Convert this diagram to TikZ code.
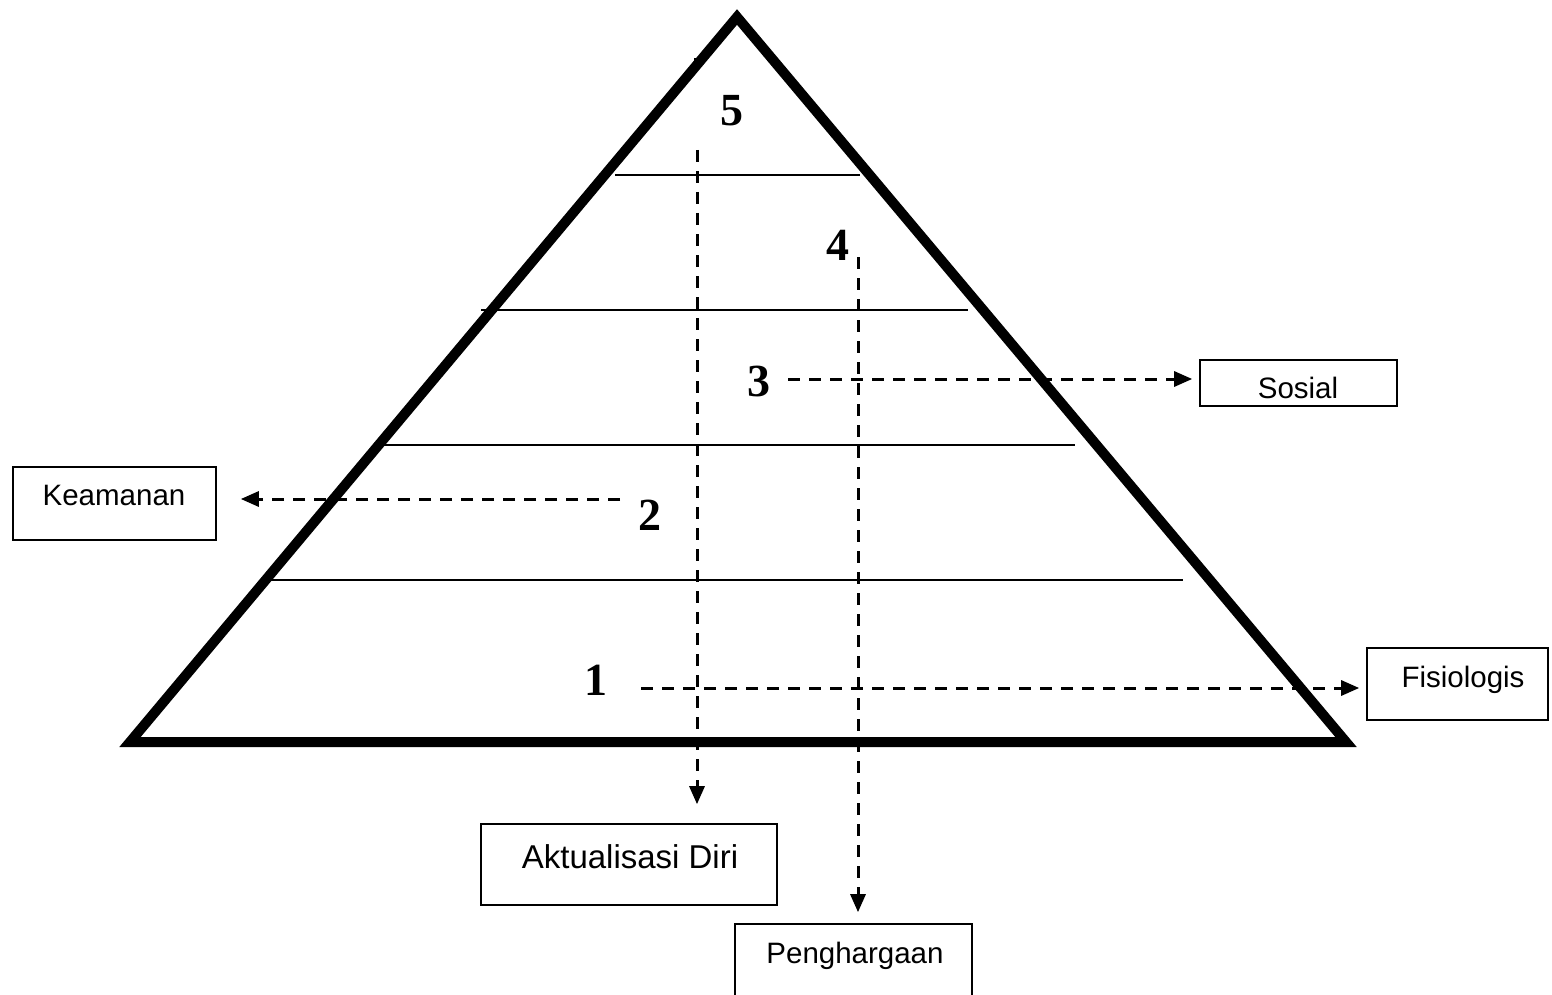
\documentclass[tikz,border=0pt]{standalone}
\usepackage{fontspec}
\setmainfont{Liberation Serif}
\setsansfont{Liberation Sans}
\usetikzlibrary{arrows.meta}
\tikzset{
  tri/.style={line width=10pt, line join=miter, miter limit=10},
  level/.style={line width=1.8pt},
  box/.style={draw, line width=1.6pt, inner sep=0pt, rectangle},
  darr/.style={line width=3pt, dash pattern=on 12pt off 9pt, -{Triangle[length=18pt,width=15pt]}},
  num/.style={inner sep=0pt, anchor=base, font=\fontsize{46}{50}\selectfont\bfseries},
  lblS/.style={inner sep=0pt, anchor=base, font=\sffamily\fontsize{29.5}{34}\selectfont},
  lblL/.style={inner sep=0pt, anchor=base, font=\sffamily\fontsize{33}{38}\selectfont},
}
\begin{document}
\begin{tikzpicture}[x=1pt,y=-1pt]
\clip (0,0) rectangle (1552,995);
\fill[white] (0,0) rectangle (1552,995);
% pyramid
\coordinate (apex) at (737,17);
\coordinate (bl) at (130,742);
\coordinate (br) at (1346,742);
\draw[tri] (apex) -- (bl) -- (br) -- cycle;
% level lines
\draw[level] (615,175) -- (860,175);
\draw[level] (481,310) -- (968,310);
\draw[level] (382,445) -- (1075,445);
\draw[level] (270,580) -- (1183,580);
% boxes
\node[box, minimum width=203pt, minimum height=73pt] (kea) at (114.5,503.5) {};
\node[box, minimum width=197pt, minimum height=46pt] (sos) at (1298.5,383) {};
\node[box, minimum width=181pt, minimum height=72pt] (fis) at (1457.5,684) {};
\node[box, minimum width=296pt, minimum height=81pt] (akt) at (629,864.5) {};
\node[box, minimum width=237pt, minimum height=86pt] (peng) at (853.5,967) {};
% box texts
\node[lblS] at (114,505) {Keamanan};
\node[lblS] at (1298,398) {Sosial};
\node[lblS] at (1463,687) {Fisiologis};
\node[lblL] at (630,868) {Aktualisasi Diri};
\node[lblS] at (855,963) {Penghargaan};
% numbers
\node[num] (n5) at (732,126) {5};
\node[num] (n4) at (838,260) {4};
\node[num] (n3) at (759,396) {3};
\node[num] (n2) at (650,530) {2};
\node[num] (n1) at (596,695) {1};
% connector starts
\coordinate (c5) at (697,150);
\coordinate (c4) at (858,257);
\coordinate (c3) at (788,379);
\coordinate (c2) at (620,499);
\coordinate (c1) at (641,688);
\draw[line width=3pt] (695.5,58) -- (695.5,70);
\draw[darr, shorten >=19pt] (c5) -- (c5 |- akt.north);
\draw[darr, shorten >=11pt] (c4) -- (c4 |- peng.north);
\draw[darr, shorten >=7pt] (c3) -- (c3 -| sos.west);
\draw[darr, shorten >=24pt] (c2) -- (c2 -| kea.east);
\draw[darr, shorten >=7pt] (c1) -- (c1 -| fis.west);
\end{tikzpicture}
\end{document}
